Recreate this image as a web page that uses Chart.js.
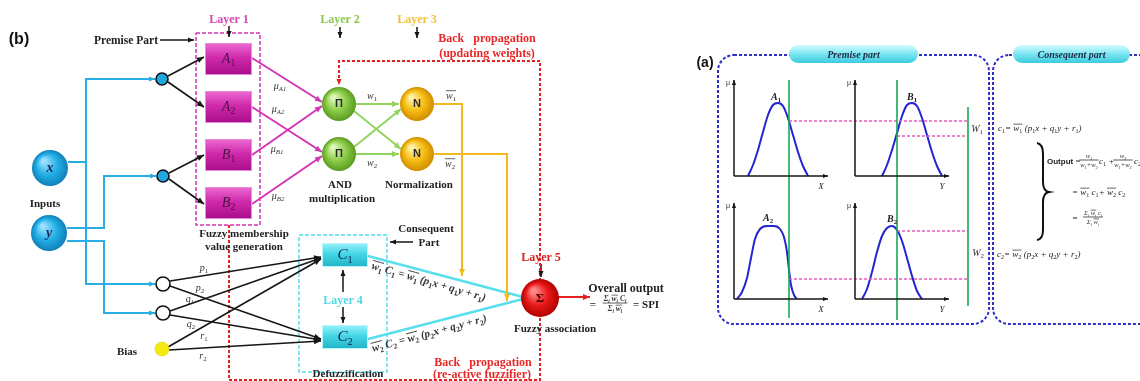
<!DOCTYPE html>
<html>
<head>
<meta charset="utf-8">
<title>ANFIS structure</title>
<script src="https://cdn.jsdelivr.net/npm/chart.js@4.4.1/dist/chart.umd.min.js"></script>
<style>
  html, body { margin: 0; padding: 0; background: #fff; }
  canvas { display: block; }
</style>
</head>
<body>
<canvas id="anfis" width="1140" height="381"></canvas>
<script>
// ---- values (units = the figure's own pixels) ----
const nodeLabels = ['x', 'y', 'Π', 'Π', 'N', 'N', 'Σ']
const nodeX = [50, 49, 339, 339, 417, 417, 540]
const nodeY = [168, 233, 104, 154, 104, 154, 298]

const junctionX = [162, 163, 163, 163, 162]
const junctionY = [79, 176, 284, 313, 349]

const premiseLabels = ['A_{1}', 'A_{2}', 'B_{1}', 'B_{2}']
const premiseTop = [43, 91, 139, 187]
const consequentLabels = ['C_{1}', 'C_{2}']
const consequentTop = [243, 325]

const weightLabels = ['μ_{A1}', 'μ_{A2}', 'μ_{B1}', 'μ_{B2}', 'w_{1}', 'w_{2}', '!{w_{1}}', '!{w_{2}}',
  'p_{1}', 'p_{2}', 'q_{1}', 'q_{2}', 'r_{1}', 'r_{2}']
const weightX = [280, 278, 277, 278, 372, 372, 451, 450, 204, 200, 190, 191, 204, 203]
const weightY = [85, 108, 148, 195, 95, 162, 95, 163, 267, 287, 298, 323, 335, 355]

// membership functions of panel (a)
const curveA1 = [[748,176],[753,165],[758,150],[763,132],[768,115],[773,105],[778,103],[783,106],[788,118],[793,135],[798,152],[803,166],[808,176]]
const curveB1 = [[882,176],[887,165],[892,150],[897,133],[902,116],[907,105],[912,103],[917,106],[922,118],[927,135],[932,152],[937,166],[942,176]]
const curveA2 = [[737,299],[742,292],[747,278],[751,258],[755,239],[760,229],[767,226],[774,226],[780,229],[784,237],[787,252],[789,270],[791,285],[794,295],[797,299]]
const curveB2 = [[862,299],[867,289],[872,272],[877,252],[882,236],[887,228],[892,226],[897,230],[902,241],[907,258],[912,276],[917,291],[922,299]]
const curveLabels = ['A_{1}', 'B_{1}', 'A_{2}', 'B_{2}']

const cutX = [789, 897, 968]
const cutFrom = [80, 80, 107]
const cutTo = [318, 320, 306]
const levelY = [121, 136, 279, 231]
const levelFrom = [789, 897, 789, 897]

// ---- wiring of network (b) ----
const inputWires = [
  [[68,162],[86,162],[86,79],[155,79]],
  [[86,162],[86,284],[155,284]],
  [[67,228],[104,228],[104,176],[156,176]],
  [[67,241],[104,241],[104,313],[155,313]]
]
const premiseWires = [[[168,76],[204,57]], [[168,82],[204,107]], [[169,173],[204,155]], [[169,179],[204,204]]]
const consequentWires = [
  [[170,281],[321,257]], [[170,286],[321,339]],
  [[170,311],[321,258]], [[170,315],[321,340]],
  [[168,347],[321,259]], [[169,350],[321,341]]
]
const memberWires = [[[252,58],[322,102]], [[252,107],[322,152]], [[252,155],[322,106]], [[252,204],[322,156]]]
const ruleWires = [[[356,104],[399,104]], [[354,111],[401,149]], [[354,147],[401,109]], [[356,154],[399,154]]]
const normWires = [[[434,104],[462,104],[462,276]], [[434,154],[507,154],[507,301]]]
const outWires = [[[368,256],[523,297]], [[368,339],[523,299]]]
const pointerWires = [[[160,40],[194,40]], [[229,26],[229,37]], [[340,27],[340,38]], [[417,27],[417,38]],
  [[541,264],[541,277]], [[413,242],[390,242]], [[343,292],[343,270]], [[343,307],[343,323]]]

const SERIF = '"Liberation Serif", "Times New Roman", serif'
const SANS = '"Liberation Sans", Arial, sans-serif'

const C = {
  input: '#27aee4', ink: '#161616', magenta: '#d236b4', green: '#93d35f', orange: '#f4b91a',
  cyan: '#57dfee', red: '#e52020', panel: '#3030c8', curve: '#2424d0', cut: '#18a858', level: '#e65cb8'
}

function wire(points, color, width, o = {}) {
  return {
    data: points.map(p => ({ x: p[0], y: p[1] })),
    showLine: true, borderColor: color, borderWidth: width, borderDash: o.dash || [],
    pointRadius: 0, tension: 0, cubicInterpolationMode: o.smooth ? 'monotone' : 'default',
    fill: false, order: 5, arrow: o.arrow || 0
  }
}

const datasets = []
const add = (list, color, width, o) => list.forEach(p => datasets.push(wire(p, color, width, o)))

add(inputWires, C.input, 2, { arrow: 6 })
add(premiseWires, C.ink, 1.6, { arrow: 7 })
add(consequentWires, C.ink, 1.6, { arrow: 7 })
add(memberWires, C.magenta, 2, { arrow: 7 })
add(ruleWires, C.green, 2, { arrow: 7 })
add(normWires, C.orange, 2, { arrow: 7 })
add(outWires, C.cyan, 2.5)
add([[[558,297],[590,297]]], C.red, 2, { arrow: 7 })
add([[[540,381],[540,61],[339,61],[339,85]]], C.red, 2, { dash: [3, 2], arrow: 6 })
add([[[229,225],[229,380],[540,380]]], C.red, 2, { dash: [3, 2] })
add([[[196,33],[260,33],[260,225],[196,225],[196,33]]], C.magenta, 1.5, { dash: [4, 2] })
add([[[299,235],[387,235],[387,372],[299,372],[299,235]]], C.cyan, 1.5, { dash: [4, 2] })
add(pointerWires, C.ink, 1.5, { arrow: 6 })

// panel (a)
const axesOrigins = [[734,176],[855,176],[734,299],[855,299]]
axesOrigins.forEach(o => {
  add([[o, [o[0], o[1] - 96]]], C.ink, 1.5, { arrow: 5 })
  add([[o, [o[0] + 94, o[1]]]], C.ink, 1.5, { arrow: 5 })
})
cutX.forEach((x, i) => add([[[x, cutFrom[i]], [x, cutTo[i]]]], C.cut, 1.6))
levelY.forEach((y, i) => add([[[levelFrom[i], y], [968, y]]], C.level, 1.6, { dash: [3, 2] }))
add([curveA1, curveB1, curveA2, curveB2], C.curve, 2, { smooth: true })

// nodes
const sphereHue = {
  x: ['#9be0ff', '#22aee6', '#1180b8'], y: ['#9be0ff', '#22aee6', '#1180b8'],
  'Π': ['#dcf7b8', '#8ccc48', '#5a9a20'], N: ['#fff2a8', '#f6bd12', '#d08c00'], 'Σ': ['#ff8a8a', '#e81818', '#b00000']
}
const nodeRadius = nodeLabels.map(t => t === 'Σ' ? 19 : (t === 'x' || t === 'y') ? 18 : 17)
function sphere(c) {
  const hue = sphereHue[nodeLabels[c.dataIndex]] || sphereHue.x
  const ch = c.chart
  if (c.type !== 'data' || !ch.scales || !ch.scales.x || !c.raw) return hue[1]
  const r = nodeRadius[c.dataIndex]
  const px = ch.scales.x.getPixelForValue(c.raw.x), py = ch.scales.y.getPixelForValue(c.raw.y)
  if (!isFinite(px) || !isFinite(py)) return hue[1]
  const g = ch.ctx.createRadialGradient(px - r * 0.35, py - r * 0.4, r * 0.1, px, py, r)
  g.addColorStop(0, hue[0]); g.addColorStop(0.55, hue[1]); g.addColorStop(1, hue[2])
  return g
}
datasets.push({
  data: nodeLabels.map((t, i) => ({ x: nodeX[i], y: nodeY[i] })),
  showLine: false, order: 0, pointRadius: nodeRadius, pointBorderWidth: 0,
  pointBackgroundColor: sphere, pointBorderColor: 'rgba(0,0,0,0)'
})
datasets.push({
  data: junctionX.map((x, i) => ({ x, y: junctionY[i] })),
  showLine: false, order: 0, pointRadius: [6, 6, 7, 7, 7],
  pointBackgroundColor: ['#1ea7e1', '#1ea7e1', '#ffffff', '#ffffff', '#f4ea10'],
  pointBorderColor: ['#111', '#111', '#111', '#111', '#e2d400'], pointBorderWidth: [1.6, 1.6, 1.6, 1.6, 0.6]
})

// ---- text helpers ----
function parseRich(s) {
  const segs = []
  let i = 0, over = false, buf = ''
  const flush = sub => { if (buf) { segs.push({ t: buf, sub: !!sub, over }); buf = '' } }
  while (i < s.length) {
    const ch = s[i]
    if (ch === '_' && s[i + 1] === '{') { flush(); const j = s.indexOf('}', i); buf = s.slice(i + 2, j); flush(true); i = j + 1; continue }
    if (ch === '!' && s[i + 1] === '{') { flush(); over = true; i += 2; continue }
    if (ch === '}' && over) { flush(); over = false; i++; continue }
    buf += ch; i++
  }
  flush()
  return segs
}
function fontFor(st, seg) {
  const sub = seg.sub
  const size = sub ? st.size * 0.68 : st.size
  const italic = st.italic && !(sub && /^[0-9]+$/.test(seg.t))
  return (italic ? 'italic ' : '') + (st.bold ? 'bold ' : '') + size.toFixed(1) + 'px ' + (st.family || SERIF)
}
function richWidth(ctx, str, st) {
  let w = 0
  parseRich(str).forEach(s => { ctx.font = fontFor(st, s); w += ctx.measureText(s.t).width })
  return w
}
function drawRich(ctx, str, x, y, st) {
  const segs = parseRich(str)
  let w = 0
  segs.forEach(s => { ctx.font = fontFor(st, s); s.w = ctx.measureText(s.t).width; w += s.w })
  let cx = st.align === 'left' ? 0 : st.align === 'right' ? -w : -w / 2
  ctx.save()
  ctx.translate(x, y)
  if (st.angle) ctx.rotate(st.angle * Math.PI / 180)
  ctx.fillStyle = st.color || '#222'
  ctx.strokeStyle = st.color || '#222'
  ctx.textAlign = 'left'
  ctx.textBaseline = 'alphabetic'
  const base = st.size * 0.35
  segs.forEach(s => {
    ctx.font = fontFor(st, s)
    ctx.fillText(s.t, cx, base + (s.sub ? st.size * 0.25 : 0))
    if (s.over) {
      ctx.lineWidth = Math.max(0.7, st.size / 13)
      ctx.beginPath(); ctx.moveTo(cx, base - st.size * 0.78); ctx.lineTo(cx + s.w, base - st.size * 0.78); ctx.stroke()
    }
    cx += s.w
  })
  ctx.restore()
  return w
}
function drawFrac(ctx, num, den, x, y, st) {
  const w = Math.max(richWidth(ctx, num, st), richWidth(ctx, den, st)) + 2
  drawRich(ctx, num, x, y - st.size * 0.62, { ...st, align: 'center' })
  drawRich(ctx, den, x, y + st.size * 0.72, { ...st, align: 'center' })
  ctx.save(); ctx.strokeStyle = st.color || '#222'; ctx.lineWidth = 0.8
  ctx.beginPath(); ctx.moveTo(x - w / 2, y); ctx.lineTo(x + w / 2, y); ctx.stroke(); ctx.restore()
}

const S = {
  tag: { size: 16, bold: true, family: SANS, color: '#111' },
  head: { size: 11, bold: true, color: '#222' },
  big: { size: 12, bold: true, color: '#222' },
  back: { size: 12, bold: true, color: '#e82828' },
  math: { size: 10, italic: true, color: '#333' },
  eq: { size: 11, italic: true, bold: true, color: '#333' },
  small: { size: 9, italic: true, color: '#222' },
  pill: { size: 10, italic: true, bold: true, color: '#1d2a40' }
}
const layerColors = ['#d845b5', '#8cc850', '#f5bf3a', '#4fd8e8', '#e02020']

const captions = [
  ['(b)', 19, 38, S.tag], ['Premise Part', 126, 40, { ...S.head, size: 11.5 }],
  ['Layer 1', 229, 19, { ...S.big, color: layerColors[0] }], ['Layer 2', 340, 19, { ...S.big, color: layerColors[1] }],
  ['Layer 3', 417, 19, { ...S.big, color: layerColors[2] }], ['Layer 4', 343, 300, { ...S.big, color: layerColors[3] }],
  ['Layer 5', 541, 257, { ...S.big, color: layerColors[4] }],
  ['Back   propagation', 487, 38, S.back], ['(updating weights)', 487, 53, S.back],
  ['Back   propagation', 483, 362, S.back], ['(re-active fuzzifier)', 482, 374, S.back],
  ['AND', 340, 184, S.head], ['multiplication', 342, 198, S.head], ['Normalization', 419, 184, S.head],
  ['Inputs', 45, 203, S.head], ['Fuzzy membership', 244, 233, S.head], ['value generation', 244, 246, S.head],
  ['Consequent', 426, 228, S.head], ['Part', 429, 242, S.head], ['Defuzzification', 348, 373, S.head],
  ['Fuzzy association', 555, 328, S.head], ['Overall output', 626, 288, S.big], ['Bias', 127, 351, S.head],
  ['!{w_{1}} C_{1} = !{w_{1}} (p_{1}x + q_{1}y + r_{1})', 372, 265, { ...S.eq, align: 'left', angle: 15.8 }],
  ['!{w_{2}} C_{2} = !{w_{2}} (p_{2}x + q_{2}y + r_{2})', 372, 348, { ...S.eq, align: 'left', angle: -15 }],
  // panel (a)
  ['(a)', 705, 62, { ...S.tag, size: 14 }],
  ['W_{1}', 977, 128, S.math], ['W_{2}', 978, 252, S.math],
  ['c_{1}= !{w_{1}} (p_{1}x + q_{1}y + r_{1})', 998, 128, { ...S.small, align: 'left' }],
  ['c_{2}= !{w_{2}} (p_{2}x + q_{2}y + r_{2})', 997, 254, { ...S.small, align: 'left' }],
  ['= !{w_{1}} c_{1}+ !{w_{2}} c_{2}', 1072, 192, { ...S.small, align: 'left' }]
]
const axisNames = ['X', 'Y', 'X', 'Y']
const pills = [['Premise part', 789, 45, 918, 63], ['Consequent part', 1013, 45, 1130, 63]]
const panelFrames = [[718, 55, 989, 324], [993, 55, 1170, 324]]

const diagram = {
  id: 'diagram',
  beforeDatasetsDraw(chart) {
    const ctx = chart.ctx
    const X = v => chart.scales.x.getPixelForValue(v), Y = v => chart.scales.y.getPixelForValue(v)
    ctx.save()
    ctx.setLineDash([3, 2]); ctx.lineWidth = 2; ctx.strokeStyle = C.panel
    panelFrames.forEach(f => {
      ctx.beginPath(); ctx.roundRect(X(f[0]), Y(f[1]), X(f[2]) - X(f[0]), Y(f[3]) - Y(f[1]), 16); ctx.stroke()
    })
    ctx.restore()
  },
  afterDatasetsDraw(chart) {
    const ctx = chart.ctx
    const X = v => chart.scales.x.getPixelForValue(v), Y = v => chart.scales.y.getPixelForValue(v)
    ctx.save()
    // arrowheads
    chart.data.datasets.forEach(ds => {
      if (!ds.arrow) return
      const n = ds.data.length, a = ds.data[n - 2], b = ds.data[n - 1]
      const x1 = X(a.x), y1 = Y(a.y), x2 = X(b.x), y2 = Y(b.y)
      const ang = Math.atan2(y2 - y1, x2 - x1), L = ds.arrow, h = L * 0.42
      ctx.fillStyle = ds.borderColor
      ctx.beginPath()
      ctx.moveTo(x2, y2)
      ctx.lineTo(x2 - L * Math.cos(ang) + h * Math.sin(ang), y2 - L * Math.sin(ang) - h * Math.cos(ang))
      ctx.lineTo(x2 - L * Math.cos(ang) - h * Math.sin(ang), y2 - L * Math.sin(ang) + h * Math.cos(ang))
      ctx.closePath(); ctx.fill()
    })
    // blocks of layer 1 and layer 4
    const block = (x0, y0, x1, y1, c) => {
      const g = ctx.createLinearGradient(0, Y(y0), 0, Y(y1))
      g.addColorStop(0, c[0]); g.addColorStop(0.45, c[1]); g.addColorStop(1, c[2])
      ctx.fillStyle = g
      ctx.fillRect(X(x0), Y(y0), X(x1) - X(x0), Y(y1) - Y(y0))
      ctx.strokeStyle = c[3]; ctx.lineWidth = 1
      ctx.strokeRect(X(x0) + 0.5, Y(y0) + 0.5, X(x1) - X(x0) - 1, Y(y1) - Y(y0) - 1)
    }
    premiseTop.forEach((t, i) => {
      block(205, t, 252, t + 32, ['#ea6ad2', '#d02aac', '#a80c88', '#f08ade'])
      drawRich(ctx, premiseLabels[i], X(228.5), Y(t + 15), { size: 14, italic: true, color: '#4a1040' })
    })
    consequentTop.forEach((t, i) => {
      block(322, t, 368, t + 24, ['#9af2fa', '#44d6e6', '#22b4c6', '#b8f6fc'])
      drawRich(ctx, consequentLabels[i], X(345), Y(t + 11), { size: 15, italic: true, color: '#10204a' })
    })
    // sphere glyphs
    nodeLabels.forEach((t, i) => {
      const st = (t === 'x' || t === 'y') ? { size: 14, italic: true, bold: true, color: '#1a2a5a' }
        : t === 'Σ' ? { size: 13, bold: true, color: '#5a0000' } : { size: 11, bold: true, family: SANS, color: '#2a2a2a' }
      drawRich(ctx, t, X(nodeX[i]), Y(nodeY[i]) - 1, st)
    })
    weightLabels.forEach((t, i) => drawRich(ctx, t, X(weightX[i]), Y(weightY[i]), S.math))
    // pills of panel (a)
    pills.forEach(p => {
      const g = ctx.createLinearGradient(0, Y(p[2]), 0, Y(p[4]))
      g.addColorStop(0, '#d4fcff'); g.addColorStop(0.5, '#7ae6f2'); g.addColorStop(1, '#3ccbe0')
      ctx.fillStyle = g
      ctx.beginPath(); ctx.roundRect(X(p[1]), Y(p[2]), X(p[3]) - X(p[1]), Y(p[4]) - Y(p[2]), 9); ctx.fill()
      drawRich(ctx, p[0], X((p[1] + p[3]) / 2), Y((p[2] + p[4]) / 2), S.pill)
    })
    captions.forEach(c => drawRich(ctx, c[0], X(c[1]), Y(c[2]), c[3]))
    // axis annotations of the membership plots
    axesOrigins.forEach((o, i) => {
      drawRich(ctx, 'μ', X(o[0] - 6), Y(o[1] - 93), { size: 7, family: SANS, color: '#333' })
      drawRich(ctx, axisNames[i], X(o[0] + 87), Y(o[1] + 10), { size: 9, italic: true, color: '#222' })
    })
    const curveTops = [[776, 96], [912, 96], [768, 217], [892, 218]]
    curveLabels.forEach((t, i) => drawRich(ctx, t, X(curveTops[i][0]), Y(curveTops[i][1]), { size: 10, italic: true, bold: true, color: '#222' }))
    // overall output formula (b)
    drawRich(ctx, '=', X(593), Y(304), S.head)
    drawFrac(ctx, 'Σ_{i} !{w_{i}} C_{i}', 'Σ_{i} !{w_{i}}', X(615), Y(303), { size: 7.5, italic: true, bold: true, color: '#333' })
    drawRich(ctx, '= SPI', X(633), Y(304), { ...S.head, align: 'left' })
    // output formula (a)
    drawRich(ctx, 'Output', X(1047), Y(161), { size: 8, bold: true, family: SANS, color: '#222', align: 'left' })
    drawRich(ctx, '=', X(1078), Y(161), { size: 9, color: '#222' })
    drawFrac(ctx, 'w_{1}', 'w_{1}+w_{2}', X(1089), Y(160), { size: 6.5, italic: true, color: '#333' })
    drawRich(ctx, 'c_{1} +', X(1099), Y(161), { ...S.small, align: 'left' })
    drawFrac(ctx, 'w_{2}', 'w_{1}+w_{2}', X(1123), Y(160), { size: 6.5, italic: true, color: '#333' })
    drawRich(ctx, 'c_{2}', X(1134), Y(161), { ...S.small, align: 'left' })
    drawRich(ctx, '=', X(1075), Y(218), { size: 9, color: '#222' })
    drawFrac(ctx, 'Σ_{i} !{w_{i}} c_{i}', 'Σ_{i} !{w_{i}}', X(1093), Y(217), { size: 6.5, italic: true, color: '#333' })
    // brace joining c1 and c2
    ctx.strokeStyle = '#111'; ctx.lineWidth = 2; ctx.setLineDash([])
    ctx.beginPath()
    ctx.moveTo(X(1037), Y(143))
    ctx.quadraticCurveTo(X(1043), Y(144), X(1043), Y(154))
    ctx.lineTo(X(1043), Y(182))
    ctx.quadraticCurveTo(X(1043), Y(191), X(1049), Y(192))
    ctx.quadraticCurveTo(X(1043), Y(193), X(1043), Y(202))
    ctx.lineTo(X(1043), Y(230))
    ctx.quadraticCurveTo(X(1043), Y(239), X(1037), Y(240))
    ctx.stroke()
    ctx.restore()
  }
}

new Chart(document.getElementById('anfis'), {
  type: 'scatter',
  data: { datasets },
  options: {
    responsive: false,
    animation: false,
    events: [],
    layout: { padding: 0, autoPadding: false },
    plugins: { legend: { display: false }, tooltip: { enabled: false } },
    scales: {
      x: { type: 'linear', display: false, min: 0, max: 1140 },
      y: { type: 'linear', display: false, min: 0, max: 381, reverse: true }
    }
  },
  plugins: [diagram]
})
</script>
</body>
</html>
